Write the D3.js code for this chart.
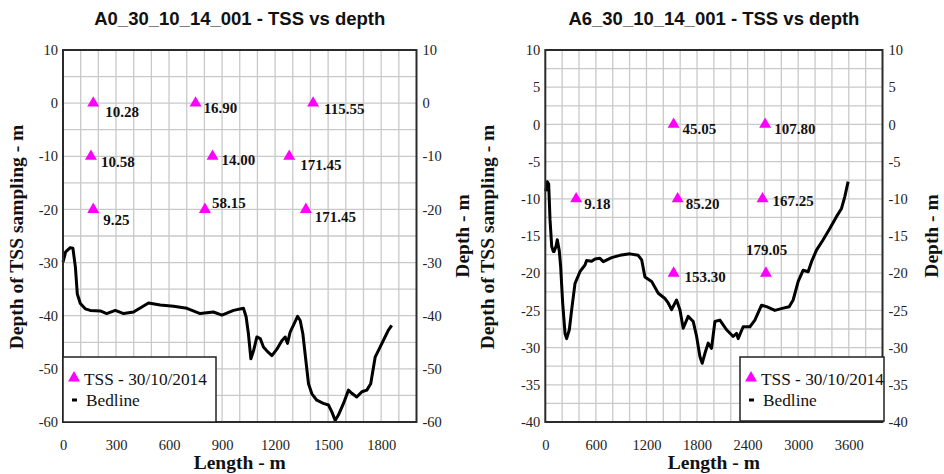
<!DOCTYPE html>
<html>
<head>
<meta charset="utf-8">
<script src="https://cdnjs.cloudflare.com/ajax/libs/d3/7.8.5/d3.min.js"></script>
<style>
  body { margin: 0; background: #fff; }
  svg { display: block; }
</style>
</head>
<body>
<div id="chart"></div>
<script>
// ---- data (length in m, depth in m) ----
const a0BedLength = [0, 15, 41, 56, 70, 81, 98, 126, 154, 211, 247, 296, 343, 399, 484, 550, 626, 701, 776, 851, 899, 965, 1021, 1036, 1049, 1063, 1078, 1097, 1116, 1134, 1153, 1182, 1210, 1238, 1257, 1270, 1285, 1308, 1327, 1342, 1357, 1376, 1389, 1408, 1436, 1473, 1502, 1521, 1540, 1558, 1587, 1615, 1634, 1662, 1691, 1719, 1741, 1766, 1794, 1822, 1841, 1860];
const a0BedDepth = [-29.9, -28, -27.2, -27.3, -30.8, -35.9, -37.7, -38.7, -39.0, -39.1, -39.6, -39.0, -39.6, -39.3, -37.6, -38.0, -38.2, -38.6, -39.6, -39.3, -39.9, -39.0, -38.6, -40.2, -43.4, -48.1, -46.6, -44.0, -44.3, -45.9, -46.6, -47.5, -46.3, -44.7, -44.0, -45.2, -43.1, -41.5, -40.1, -40.9, -43.4, -49.0, -52.8, -54.7, -55.9, -56.5, -56.8, -58.1, -59.7, -58.7, -56.5, -54.0, -54.6, -55.3, -54.3, -54.0, -52.8, -47.8, -45.9, -44.0, -42.7, -41.8];

const a0TssLength = [171, 750, 1415, 158, 846, 1280, 171, 803, 1374];
const a0TssDepth = [0, 0, 0, -10, -10, -10, -20, -20, -20];
const a0TssValue = ["10.28", "16.90", "115.55", "10.58", "14.00", "171.45", "9.25", "58.15", "171.45"];

const a6BedLength = [5, 24, 40, 56, 76, 95, 103, 127, 142, 166, 182, 206, 234, 253, 285, 313, 352, 411, 471, 490, 550, 589, 648, 688, 787, 886, 1004, 1102, 1143, 1182, 1261, 1340, 1419, 1458, 1498, 1557, 1597, 1636, 1695, 1755, 1795, 1834, 1861, 1893, 1932, 1972, 2012, 2071, 2150, 2229, 2269, 2288, 2347, 2427, 2486, 2565, 2625, 2723, 2822, 2893, 2940, 3000, 3059, 3118, 3158, 3217, 3296, 3375, 3454, 3514, 3553, 3592];
const a6BedDepth = [-9.0, -7.7, -8.0, -12.8, -16.4, -17.1, -17.1, -16.4, -15.5, -17.0, -19.1, -24.0, -28.1, -28.8, -27.6, -24.9, -21.4, -19.8, -18.9, -18.3, -18.4, -18.1, -18.0, -18.45, -17.9, -17.6, -17.4, -17.6, -18.2, -20.5, -21.1, -22.7, -23.4, -24.0, -24.9, -23.6, -24.9, -27.4, -25.8, -26.5, -28.5, -31.2, -32.1, -30.8, -29.4, -30.1, -26.5, -26.3, -27.6, -28.5, -28.1, -28.8, -27.2, -27.2, -26.3, -24.3, -24.5, -25.0, -24.7, -24.5, -23.6, -21.1, -19.6, -19.8, -18.45, -16.9, -15.5, -14.0, -12.4, -11.3, -9.7, -7.7];

const a6TssLength = [1522, 2608, 366, 1570, 2577, 1522, 2617];
const a6TssDepth = [0, 0, -10, -10, -10, -20, -20];
const a6TssValue = ["45.05", "107.80", "9.18", "85.20", "167.25", "153.30", "179.05"];

// axis ticks
const a0XTicks = [0, 300, 600, 900, 1200, 1500, 1800];
const a0YTicks = [10, 0, -10, -20, -30, -40, -50, -60];
const a6XTicks = [0, 600, 1200, 1800, 2400, 3000, 3600];
const a6YTicks = [10, 5, 0, -5, -10, -15, -20, -25, -30, -35, -40];

// label nudges in px (layout only)
const a0LabelDx = [12, 8, 11, 10, 9, 11, 10, 7, 9];
const a0LabelDy = [14, 10, 11, 11, 9, 14, 16, -1, 13];
const a6LabelDx = [9, 9, 8, 8, 10, 11, -20];
const a6LabelDy = [10, 10, 10, 10, 7, 9, -18];

const serif = "'Liberation Serif', 'Times New Roman', serif";
const sans = "'Liberation Sans', Arial, sans-serif";

const svg = d3.select("#chart").append("svg")
    .attr("width", 944)
    .attr("height", 474);

svg.append("rect").attr("width", 944).attr("height", 474).attr("fill", "#fff");

function drawPanel(p) {
    const g = svg.append("g");

    const x = d3.scaleLinear().domain(p.xDomain).range([p.left, p.right]);
    const y = d3.scaleLinear().domain(p.yDomain).range([p.bottom, p.top]);

    // grid
    g.append("g").selectAll("line")
        .data(d3.range(p.xDomain[0] + p.xGrid, p.xDomain[1], p.xGrid))
        .enter().append("line")
        .attr("x1", d => x(d)).attr("x2", d => x(d))
        .attr("y1", p.top).attr("y2", p.bottom)
        .attr("stroke", "#c9c9c9").attr("stroke-width", 1.3);
    g.append("g").selectAll("line")
        .data(d3.range(p.yDomain[0] + p.yGrid, p.yDomain[1], p.yGrid))
        .enter().append("line")
        .attr("x1", p.left).attr("x2", p.right)
        .attr("y1", d => y(d)).attr("y2", d => y(d))
        .attr("stroke", "#c9c9c9").attr("stroke-width", 1.3);

    // bed line
    const bed = p.bedX.map((v, i) => [v, p.bedY[i]]);
    g.append("path")
        .datum(bed)
        .attr("d", d3.line().x(d => x(d[0])).y(d => y(d[1])))
        .attr("fill", "none")
        .attr("stroke", "#000")
        .attr("stroke-width", 3)
        .attr("stroke-linejoin", "round");

    // TSS markers
    const pts = p.tssX.map((v, i) => ({x: v, y: p.tssY[i], label: p.tssV[i], dx: p.dx[i], dy: p.dy[i]}));
    g.append("g").selectAll("path")
        .data(pts)
        .enter().append("path")
        .attr("d", d3.symbol().type(d3.symbolTriangle).size(62))
        .attr("transform", d => `translate(${x(d.x)},${y(d.y)})`)
        .attr("fill", "#ff00ff");
    g.append("g").selectAll("text")
        .data(pts)
        .enter().append("text")
        .attr("x", d => x(d.x) + d.dx)
        .attr("y", d => y(d.y) + d.dy)
        .style("font-family", serif)
        .style("font-weight", "bold")
        .style("font-size", "15px")
        .attr("fill", "#111")
        .text(d => d.label);

    // axes (hyphen minus like the original, not unicode minus)
    const fmt = d => String(d);
    const styleAxis = sel => {
        sel.attr("font-family", null).attr("font-size", null);
        sel.select(".domain").remove();
        sel.selectAll("text")
            .style("font-family", serif)
            .style("font-size", "14.5px")
            .attr("fill", "#222");
    };
    g.append("g")
        .attr("transform", `translate(${p.left},0)`)
        .call(d3.axisLeft(y).tickValues(p.yTicks).tickSize(0).tickPadding(5).tickFormat(fmt))
        .call(styleAxis);
    g.append("g")
        .attr("transform", `translate(${p.right},0)`)
        .call(d3.axisRight(y).tickValues(p.yTicks).tickSize(0).tickPadding(6).tickFormat(fmt))
        .call(styleAxis);
    g.append("g")
        .attr("transform", `translate(0,${p.bottom})`)
        .call(d3.axisBottom(x).tickValues(p.xTicks).tickSize(0).tickPadding(17.5).tickFormat(fmt))
        .call(styleAxis);

    // frame
    g.append("rect")
        .attr("x", p.left).attr("y", p.top)
        .attr("width", p.right - p.left).attr("height", p.bottom - p.top)
        .attr("fill", "none")
        .attr("stroke", "#2b2b2b")
        .attr("stroke-width", 2);

    // title
    const cx = (p.left + p.right) / 2;
    g.append("text")
        .attr("x", cx).attr("y", 25)
        .attr("text-anchor", "middle")
        .style("font-family", sans)
        .style("font-weight", "bold")
        .style("font-size", "18.5px")
        .attr("fill", "#111")
        .text(p.title);

    // axis titles
    const boldSerif = sel => sel
        .attr("text-anchor", "middle")
        .style("font-family", serif)
        .style("font-weight", "bold")
        .style("font-size", "19.5px")
        .attr("fill", "#111");
    g.append("text")
        .attr("x", cx).attr("y", 469)
        .call(boldSerif)
        .text("Length - m");
    g.append("text")
        .attr("transform", `translate(${p.leftTitleX},237) rotate(-90)`)
        .call(boldSerif)
        .text("Depth of TSS sampling - m");
    g.append("text")
        .attr("transform", `translate(${p.rightTitleX},236) rotate(-90)`)
        .call(boldSerif)
        .text("Depth - m");

    // legend
    const lg = g.append("g").attr("transform", `translate(${p.legend[0]},${p.legend[1]})`);
    lg.append("rect")
        .attr("width", p.legend[2]).attr("height", p.legend[3])
        .attr("fill", "#fff")
        .attr("stroke", "#222")
        .attr("stroke-width", 1.5);
    lg.append("path")
        .attr("d", d3.symbol().type(d3.symbolTriangle).size(62))
        .attr("transform", "translate(11,21)")
        .attr("fill", "#ff00ff");
    lg.append("rect")
        .attr("x", 9).attr("y", 41.5).attr("width", 5).attr("height", 3)
        .attr("fill", "#000");
    lg.append("text")
        .attr("x", 21).attr("y", 28)
        .style("font-family", serif).style("font-size", "17.3px").attr("fill", "#111")
        .text("TSS - 30/10/2014");
    lg.append("text")
        .attr("x", 23).attr("y", 48.5)
        .style("font-family", serif).style("font-size", "17.3px").attr("fill", "#111")
        .text("Bedline");
}

drawPanel({
    title: "A0_30_10_14_001 - TSS vs depth",
    left: 63, right: 416.5, top: 50, bottom: 422,
    xDomain: [0, 2000], yDomain: [-60, 10], xGrid: 100, yGrid: 5,
    xTicks: a0XTicks, yTicks: a0YTicks,
    bedX: a0BedLength, bedY: a0BedDepth,
    tssX: a0TssLength, tssY: a0TssDepth, tssV: a0TssValue,
    dx: a0LabelDx, dy: a0LabelDy,
    leftTitleX: 23, rightTitleX: 469,
    legend: [63, 357, 153, 65]
});

drawPanel({
    title: "A6_30_10_14_001 - TSS vs depth",
    left: 545.3, right: 882.5, top: 50, bottom: 422,
    xDomain: [0, 4000], yDomain: [-40, 10], xGrid: 200, yGrid: 2.5,
    xTicks: a6XTicks, yTicks: a6YTicks,
    bedX: a6BedLength, bedY: a6BedDepth,
    tssX: a6TssLength, tssY: a6TssDepth, tssV: a6TssValue,
    dx: a6LabelDx, dy: a6LabelDy,
    leftTitleX: 494, rightTitleX: 938,
    legend: [740, 357, 144, 64]
});
</script>
</body>
</html>
